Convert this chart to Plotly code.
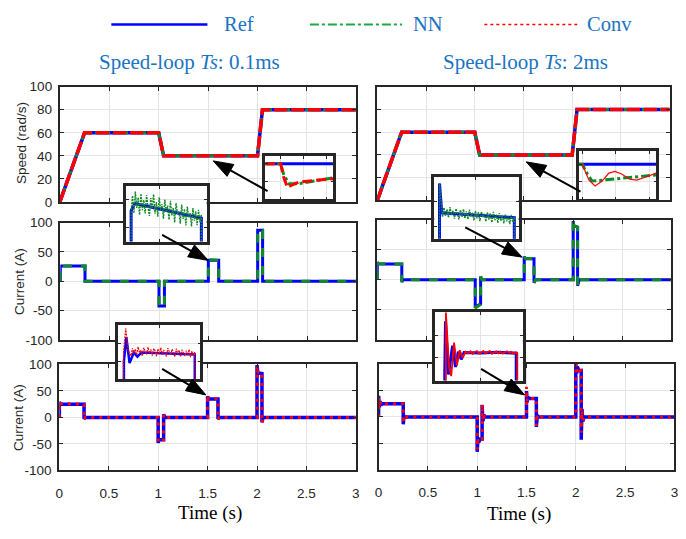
import numpy as np
import plotly.graph_objects as go

W, H = 686, 539

# ---------------- data ----------------
time_ticks = [0, 0.5, 1, 1.5, 2, 2.5, 3]
time_ticklabels = ['0', '0.5', '1', '1.5', '2', '2.5', '3']
speed_ticks = [0, 20, 40, 60, 80, 100]
speed_ticklabels = ['0', '20', '40', '60', '80', '100']
current_ticks = [-100, -50, 0, 50, 100]
current_ticklabels = ['-100', '-50', '0', '50', '100']

# speed (rad/s) – same profile for both sampling times
speed_t = [0, 0.25, 1.0, 1.05, 2.0, 2.05, 3.0]
speed_ref = [0, 60, 60, 40, 40, 80, 80]
speed_nn = [0, 60, 60, 40, 40, 80, 80]
speed_conv = [0, 60, 60, 40, 40, 80, 80]

# current, NN, Ts = 0.1 ms
cur_nn01_t = [0, 0, 0.25, 0.25, 1.0, 1.0, 1.055, 1.055, 1.5, 1.5, 1.605, 1.605, 2.0, 2.0, 2.05, 2.05, 3.0]
cur_nn01_ref = [0, 26, 26, 0, 0, -42, -42, 0, 0, 36, 36, 0, 0, 87, 87, 0, 0]
cur_nn01_nn = [0, 26, 26, 0, 0, -43, -43, 0, 0, 37, 36, 0, 0, 88, 87, 0, 0]

# current, Conv, Ts = 0.1 ms
cur_cv01_t = [0, 0, 0.006, 0.25, 0.25, 0.262, 1.0, 1.0, 1.008, 1.055, 1.055, 1.067, 1.5, 1.5, 1.508,
              1.605, 1.605, 1.617, 2.0, 2.0, 2.008, 2.05, 2.05, 2.062, 3.0]
cur_cv01_ref = [0, 30, 25.5, 25, -3, 0, 0, -48, -42, -42, 6, 0, 0, 40, 35, 35, -3, 0, 0, 99, 84, 83, -9, 0, 0]
cur_cv01_conv = [0, 28, 26, 25, -4, 0, 0, -46, -43, -42, 5, 0, 0, 42, 36, 35, -4, 0, 0, 97, 86, 84, -10, 0, 0]

# current, NN, Ts = 2 ms
cur_nn2_t = [0, 0, 0.01, 0.25, 0.25, 0.265, 1.0, 1.0, 1.055, 1.055, 1.068, 1.5, 1.5, 1.51, 1.6, 1.6, 1.615,
             2.0, 2.0, 2.006, 2.045, 2.045, 2.06, 3.0]
cur_nn2_ref = [0, 29, 27, 26.5, -3, 0, 0, -46, -40, 5, 0, 0, 39, 35, 35, -5, 0, 0, 98, 90, 88, -10, 0, 0]
cur_nn2_nn = [0, 30, 27, 26, -4, 0, 0, -47, -41, 6, 0, 0, 40, 36, 35, -6, 0, 0, 102, 91, 88, -11, 0, 0]

# current, Conv, Ts = 2 ms
cur_cv2_t = [0, 0, 0.008, 0.016, 0.024, 0.035, 0.25, 0.25, 0.258, 0.268, 1.0, 1.0, 1.008, 1.016, 1.03,
             1.05, 1.05, 1.058, 1.068, 1.078, 1.5, 1.5, 1.506, 1.514, 1.525, 1.6, 1.6, 1.61, 1.622,
             2.0, 2.0, 2.008, 2.016, 2.03, 2.055, 2.055, 2.063, 2.072, 2.085, 3.0]
cur_cv2_ref = [0, 40, 18, 30, 22, 25, 25, -14, 2, 0, 0, -66, -40, -48, -42, -42, 23, -8, 4, 0, 0, 49, 28, 38,
               35, 35, -19, 3, 0, 0, 100, 82, 95, 88, 88, -43, 15, -8, 0, 0]
cur_cv2_conv = [0, 36, 20, 29, 23, 25, 25, -12, 3, 0, 0, -62, -43, -46, -42, -42, 24, -6, 3, 0, 0, 57, 30, 37,
                35, 35, -17, 4, 0, 0, 100, 85, 93, 87, 88, -30, 12, -6, 0, 0]

# ---- zoomed insets (load step around t = 1.5 s) ----
ins_spd01_ref_t = [1.432, 1.732]
ins_spd01_ref = [40, 40]
ins_spd01_nn_t = [1.432, 1.5, 1.513, 1.536, 1.578, 1.652, 1.732]
ins_spd01_nn = [40, 40, 38.8, 37.7, 37.7, 38.0, 38.4]
ins_spd01_conv_t = [1.432, 1.5, 1.513, 1.529, 1.544, 1.58, 1.652, 1.732]
ins_spd01_conv = [40, 40, 38.5, 37.3, 37.5, 37.9, 38.1, 38.3]

ins_spd2_ref_t = [1.49, 1.72]
ins_spd2_ref = [40, 40]
ins_spd2_nn_t = [1.49, 1.5, 1.515, 1.529, 1.559, 1.632, 1.72]
ins_spd2_nn = [40, 40, 38.9, 38.1, 38.2, 38.5, 38.8]
ins_spd2_conv_t = [1.49, 1.5, 1.52, 1.538, 1.559, 1.579, 1.597, 1.617, 1.641, 1.662, 1.685, 1.72]
ins_spd2_conv = [40, 40, 38.2, 37.55, 38.1, 39.0, 39.2, 38.9, 38.3, 38.2, 38.5, 39.0]

ins_nn01_ref_t = [1.49, 1.5, 1.5, 1.5052, 1.6, 1.6, 1.61]
ins_nn01_ref = [0, 0, 36, 38.7, 33.4, 0, 0]
ins_nn01_nn = [36.0, 41.5, 35.2, 43.0, 37.1, 40.8, 34.6, 42.2, 36.3, 39.9, 35.1, 41.7, 37.4, 34.2, 40.6, 36.8,
               42.0, 35.0, 39.2, 33.9, 40.9, 36.1, 38.4, 33.2, 40.1, 35.5, 37.9, 32.8, 39.6, 34.4, 37.2, 31.9,
               38.8, 34.9, 36.0, 31.4, 38.3, 33.1, 36.7, 30.8, 37.6, 33.8, 35.2, 30.4, 37.0, 32.5, 35.9, 30.9,
               36.4, 32.0, 34.6]

ins_nn2_ref_t = [1.49, 1.5, 1.5, 1.503, 1.6, 1.6, 1.61]
ins_nn2_ref = [0, 0, 47.4, 35.5, 33.5, 0, 0]
ins_nn2_nn = [47.5, 38.5, 33.8, 37.6, 34.2, 36.9, 33.5, 37.8, 34.6, 36.4, 33.1, 37.2, 34.9, 32.8, 36.7, 33.9,
              37.0, 33.2, 36.1, 32.9, 36.8, 34.0, 35.6, 32.4, 36.3, 33.3, 35.8, 32.1, 36.0, 33.6, 35.1, 31.9,
              35.7, 32.7, 35.3, 31.6, 35.9, 32.5, 34.8, 31.4, 35.4, 32.2, 34.5, 31.2, 35.0, 32.0, 34.3, 30.9,
              34.7, 31.7, 33.9]

ins_cv01_ref_t = [1.49, 1.5, 1.5, 1.5034, 1.508, 1.514, 1.519, 1.525, 1.6, 1.6, 1.61]
ins_cv01_ref = [0, 0, 30, 43.3, 29.0, 34.9, 32.6, 34.9, 33.8, 0, 0]
ins_cv01_conv_head_t = [1.49, 1.4995, 1.4995, 1.5025, 1.506]
ins_cv01_conv_head = [0, 0, 35, 48.2, 36]
ins_cv01_conv = [33.0, 37.2, 34.1, 36.8, 33.5, 38.0, 34.7, 36.2, 32.9, 37.5, 35.3, 33.7, 37.9, 34.4, 36.6,
                 33.2, 37.1, 35.8, 32.8, 36.9, 34.0, 37.6, 33.6, 36.3, 34.8, 32.7, 37.3, 35.1, 33.3, 36.7,
                 34.5, 32.6, 37.0, 33.9, 36.1, 32.5, 36.4, 34.2, 32.9, 35.9, 33.4, 36.5, 32.3, 35.6, 33.1, 35.2]

ins_cv2_ref_t = [1.48, 1.5, 1.5, 1.501, 1.505, 1.511, 1.515, 1.519, 1.523, 1.527, 1.55, 1.575, 1.6, 1.6, 1.61]
ins_cv2_ref = [0, 0, 20, 54, 19, 38, 24, 34, 29, 33.5, 33.2, 33.6, 33.0, 0, 0]
ins_cv2_conv_head_t = [1.48, 1.5015, 1.5015, 1.506, 1.509, 1.513, 1.517, 1.521, 1.525, 1.529]
ins_cv2_conv_head = [0, 0, 60, 24, 18, 40, 25, 35, 30, 34]
ins_cv2_conv = [33.1, 34.3, 32.6, 33.9, 34.5, 32.8, 33.6, 34.4, 32.9, 33.8, 34.6, 32.7, 33.5, 34.2, 33.0,
                34.1, 32.8, 33.7, 34.3, 33.2, 33.9, 32.9, 33.6]

NOISE_DT = 0.002
NOISE_DT2 = 0.003

# ---------------- styles ----------------
BLUE = '#0000FF'
GREEN = '#128A2A'
RED = '#FF0000'
AX = '#262626'
GRID = '#e4e4e4'
TXTBLUE = '#1A74C4'

fig = go.Figure()


def dom_x(a, b):
    return [a / W, b / W]


def dom_y(top, bot):
    return [1 - bot / H, 1 - top / H]


def add(n, x, y, color, width, dash='solid'):
    fig.add_trace(go.Scatter(x=x, y=y, mode='lines', xaxis=f'x{n}', yaxis=f'y{n}',
                             line=dict(color=color, width=width, dash=dash),
                             showlegend=False, hoverinfo='skip'))


RED_LONG = '13px,4px'
RED_SHORT = '3px,5px'

# main panels
add(1, speed_t, speed_ref, BLUE, 3.5)
add(1, speed_t, speed_nn, GREEN, 3, 'dashdot')
add(1, speed_t, speed_conv, RED, 3.5, RED_LONG)
add(2, speed_t, speed_ref, BLUE, 3.5)
add(2, speed_t, speed_nn, GREEN, 3, 'dashdot')
add(2, speed_t, speed_conv, RED, 3.5, RED_LONG)

add(3, cur_nn01_t, cur_nn01_ref, BLUE, 3)
add(3, cur_nn01_t, cur_nn01_nn, GREEN, 3, 'dash')
add(4, cur_nn2_t, cur_nn2_ref, BLUE, 3)
add(4, cur_nn2_t, cur_nn2_nn, GREEN, 3, 'dash')

add(5, cur_cv01_t, cur_cv01_ref, BLUE, 3.5)
add(5, cur_cv01_t, cur_cv01_conv, RED, 3, RED_SHORT)
add(6, cur_cv2_t, cur_cv2_ref, BLUE, 3.5)
add(6, cur_cv2_t, cur_cv2_conv, RED, 3, RED_SHORT)

# insets
add(7, ins_spd01_ref_t, ins_spd01_ref, BLUE, 3)
add(7, ins_spd01_nn_t, ins_spd01_nn, GREEN, 3, 'dashdot')
add(7, ins_spd01_conv_t, ins_spd01_conv, RED, 3, '10px,4px')

add(8, ins_spd2_ref_t, ins_spd2_ref, BLUE, 3)
add(8, ins_spd2_nn_t, ins_spd2_nn, GREEN, 3, 'dashdot')
add(8, ins_spd2_conv_t, ins_spd2_conv, RED, 1.2)

t9 = list(1.5 + NOISE_DT * np.arange(len(ins_nn01_nn)))
add(9, ins_nn01_ref_t, ins_nn01_ref, BLUE, 3)
add(9, [1.49, 1.5] + t9 + [1.6, 1.61], [0, 0] + ins_nn01_nn + [0, 0], GREEN, 1.4, '2px,1px')

t10 = list(1.5 + NOISE_DT * np.arange(len(ins_nn2_nn)))
add(10, ins_nn2_ref_t, ins_nn2_ref, BLUE, 3)
add(10, [1.49, 1.5] + t10 + [1.6, 1.61], [0, 0] + ins_nn2_nn + [0, 0], GREEN, 1.4, '2px,1px')

t11 = list(1.51 + NOISE_DT * np.arange(len(ins_cv01_conv)))
add(11, ins_cv01_ref_t, ins_cv01_ref, BLUE, 2.5)
add(11, ins_cv01_conv_head_t + t11 + [1.6015, 1.61], ins_cv01_conv_head + ins_cv01_conv + [0, 0], RED, 1.2,
    '2px,1px')

t12 = list(1.533 + NOISE_DT2 * np.arange(len(ins_cv2_conv)))
add(12, ins_cv2_ref_t, ins_cv2_ref, BLUE, 3)
add(12, ins_cv2_conv_head_t + t12 + [1.6015, 1.6015, 1.61], ins_cv2_conv_head + ins_cv2_conv + [33, 0, 0], RED, 1.8)

# ---------------- axes ----------------
tickfont = dict(family='Liberation Sans, Arial', size=13.5, color=AX)
common = dict(showline=True, linecolor=AX, linewidth=2, mirror='allticks', ticks='inside', ticklen=4,
              tickcolor=AX, tickwidth=1, showgrid=True, gridcolor=GRID, gridwidth=1, zeroline=False,
              tickfont=tickfont, fixedrange=True)

main_boxes = {
    1: (56.5, 356.5, 82, 200.5),
    2: (377.7, 673.5, 82, 199),
    3: (57, 356.5, 221.7, 342.7),
    4: (377.7, 675, 219, 342.3),
    5: (56, 356, 367.7, 476.7),
    6: (379, 678.3, 367.3, 476),
}
layout = {}
for n, (x0, x1, y0, y1) in main_boxes.items():
    is_speed = n in (1, 2)
    left = n in (1, 3, 5)
    bottom = n in (5, 6)
    xk = 'xaxis' if n == 1 else f'xaxis{n}'
    yk = 'yaxis' if n == 1 else f'yaxis{n}'
    layout[xk] = dict(common, domain=dom_x(x0, x1), range=[0, 3], anchor=f'y{n}',
                      tickvals=time_ticks, ticktext=time_ticklabels, showticklabels=bottom,
                      ticklabelstandoff=9)
    layout[yk] = dict(common, domain=dom_y(y0, y1), anchor=f'x{n}',
                      range=[0, 100] if is_speed else [-100, 100],
                      tickvals=speed_ticks if is_speed else current_ticks,
                      ticktext=speed_ticklabels if is_speed else current_ticklabels,
                      showticklabels=left, ticklabelstandoff=3)

inset_boxes = {
    7: ((264.3, 333.3, 153.3, 198), [1.432, 1.732], [35.9, 40.9], 1.5, 0.1, 36, 2),
    8: ((581.7, 660, 148.3, 198), [1.49, 1.72], [36, 41.5], 1.5, 0.1, 36, 2),
    9: ((123.3, 205, 184, 241.3), [1.4925, 1.6075], [25, 45], 1.541, 0.1, 30, 10),
    10: ((435.3, 520.7, 175, 238.3), [1.4929, 1.6058], [25, 50], 1.5485, 0.1, 30, 10),
    11: ((115.3, 198.7, 327.3, 383), [1.4916, 1.6079], [20, 50], 1.55, 0.1, 30, 10),
    12: ((436, 525, 314, 384.3), [1.4862, 1.6093], [15, 60], 1.55, 0.1, 30, 15),
}
for n, ((x0, x1, y0, y1), xr, yr, xt0, xdt, yt0, ydt) in inset_boxes.items():
    ins = dict(common, linewidth=2.5, ticklen=3, showticklabels=False)
    layout[f'xaxis{n}'] = dict(ins, domain=dom_x(x0, x1), range=xr, anchor=f'y{n}', tick0=xt0, dtick=xdt)
    layout[f'yaxis{n}'] = dict(ins, domain=dom_y(y0, y1), range=yr, anchor=f'x{n}', tick0=yt0, dtick=ydt)

# ---------------- decorations ----------------
shapes = []


def arrow(tail, tip, L=20, Wd=14):
    tx, ty = tail
    hx, hy = tip
    dx, dy = hx - tx, hy - ty
    d = (dx ** 2 + dy ** 2) ** 0.5
    ux, uy = dx / d, dy / d
    bx, by = hx - L * ux, hy - L * uy
    nx, ny = -uy, ux
    p1 = (bx + Wd / 2 * nx, by + Wd / 2 * ny)
    p2 = (bx - Wd / 2 * nx, by - Wd / 2 * ny)
    shapes.append(dict(type='line', xref='paper', yref='paper', x0=tx / W, y0=1 - ty / H,
                       x1=(bx + 2 * ux) / W, y1=1 - (by + 2 * uy) / H, line=dict(color='black', width=2)))
    path = (f'M {hx / W},{1 - hy / H} L {p1[0] / W},{1 - p1[1] / H} '
            f'L {p2[0] / W},{1 - p2[1] / H} Z')
    shapes.append(dict(type='path', xref='paper', yref='paper', path=path, fillcolor='black',
                       line=dict(color='black', width=1)))


arrow((266.7, 189.3), (211.7, 158.3))
arrow((583.3, 190), (528.3, 159.3))
arrow((160, 234.3), (206.7, 260.7))
arrow((466.7, 226.7), (524.3, 257.3))
arrow((160, 372.3), (204.3, 399))
arrow((482.7, 372.3), (526.7, 399))

LEG_Y = 18
for (x0, x1, col, wd, dash) in [(108.6, 205.8, BLUE, 2.5, 'solid'),
                                (309.5, 402.8, '#1DA84A', 2.2, 'dashdot'),
                                (486, 580, RED, 1.3, 'dot')]:
    shapes.append(dict(type='line', xref='paper', yref='paper', x0=x0 / W, x1=x1 / W,
                       y0=1 - LEG_Y / H, y1=1 - LEG_Y / H, line=dict(color=col, width=wd, dash=dash)))

serif = 'Liberation Serif, Times New Roman, serif'
ann = []
for (x, txt) in [(221, 'Ref'), (411.6, 'NN'), (587.6, 'Conv')]:
    ann.append(dict(xref='paper', yref='paper', x=x / W, y=1 - LEG_Y / H, xanchor='left', yanchor='middle',
                    text=txt, showarrow=False, font=dict(family=serif, size=20.5, color=TXTBLUE)))
ann.append(dict(xref='paper', yref='paper', x=188 / W, y=1 - 57 / H, xanchor='center', yanchor='middle',
                text='Speed-loop <i>Ts</i>: 0.1ms', showarrow=False,
                font=dict(family=serif, size=21, color=TXTBLUE)))
ann.append(dict(xref='paper', yref='paper', x=527.6 / W, y=1 - 57 / H, xanchor='center', yanchor='middle',
                text='Speed-loop <i>Ts</i>: 2ms', showarrow=False,
                font=dict(family=serif, size=21, color=TXTBLUE)))
for (x, y) in [(208, 520), (521.5, 521)]:
    ann.append(dict(xref='paper', yref='paper', x=x / W, y=1 - y / H, xanchor='center', yanchor='middle',
                    text='Time (s)', showarrow=False, font=dict(family=serif, size=19, color='black')))
for (x, y, txt) in [(17, 140, 'Speed (rad/s)'), (15, 282, 'Current (A)'), (14, 422, 'Current (A)')]:
    ann.append(dict(xref='paper', yref='paper', x=x / W, y=1 - y / H, xanchor='center', yanchor='middle',
                    text=txt, textangle=-90, showarrow=False,
                    font=dict(family='Liberation Sans, Arial', size=13.5, color=AX)))

fig.update_layout(width=W, height=H, margin=dict(l=0, r=0, t=0, b=0), autosize=False,
                  paper_bgcolor='white', plot_bgcolor='white', showlegend=False,
                  shapes=shapes, annotations=ann, **layout)

fig.write_html('out.html', config={'displayModeBar': False})
